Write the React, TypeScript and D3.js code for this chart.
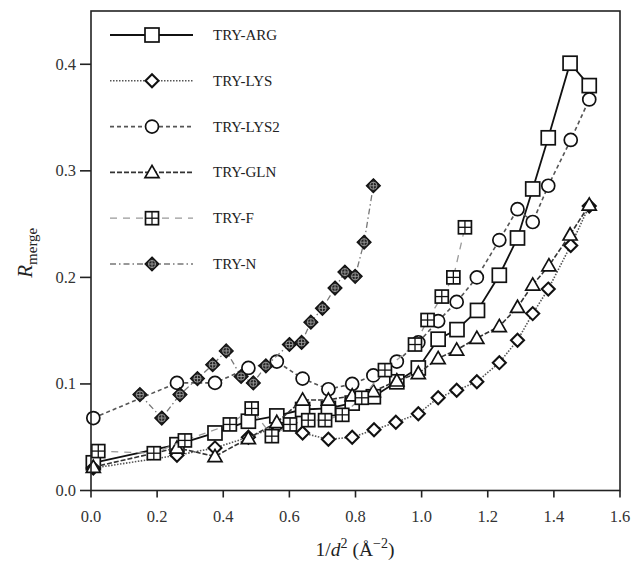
import React from "react";
import * as d3 from "d3";

type P = [number, number];

const argData: P[] = [[0.007,0.026],[0.26,0.043],[0.375,0.054],[0.476,0.065],[0.562,0.070],[0.64,0.076],[0.718,0.077],[0.79,0.082],[0.854,0.088],[0.925,0.102],[0.99,0.115],[1.05,0.142],[1.107,0.151],[1.169,0.169],[1.235,0.202],[1.29,0.237],[1.336,0.283],[1.383,0.331],[1.449,0.401],[1.507,0.380]];
const lysData: P[] = [[0.007,0.021],[0.26,0.033],[0.375,0.040],[0.476,0.050],[0.562,0.060],[0.64,0.054],[0.718,0.048],[0.79,0.050],[0.856,0.057],[0.922,0.064],[0.99,0.072],[1.05,0.087],[1.106,0.094],[1.167,0.102],[1.235,0.120],[1.29,0.141],[1.336,0.166],[1.383,0.189],[1.451,0.230],[1.507,0.267]];
const lys2Data: P[] = [[0.007,0.068],[0.26,0.101],[0.375,0.101],[0.476,0.115],[0.562,0.121],[0.64,0.105],[0.718,0.095],[0.79,0.100],[0.854,0.108],[0.925,0.121],[0.99,0.139],[1.05,0.159],[1.106,0.177],[1.167,0.200],[1.235,0.235],[1.29,0.264],[1.336,0.252],[1.383,0.286],[1.451,0.329],[1.507,0.367]];
const glnData: P[] = [[0.007,0.022],[0.26,0.040],[0.375,0.032],[0.476,0.049],[0.562,0.064],[0.64,0.085],[0.718,0.085],[0.79,0.089],[0.854,0.093],[0.925,0.103],[0.99,0.110],[1.05,0.124],[1.106,0.132],[1.167,0.143],[1.235,0.154],[1.29,0.172],[1.336,0.193],[1.385,0.211],[1.449,0.240],[1.507,0.268]];
const fData: P[] = [[0.022,0.037],[0.19,0.035],[0.284,0.047],[0.42,0.062],[0.486,0.077],[0.547,0.051],[0.602,0.062],[0.657,0.066],[0.708,0.066],[0.76,0.071],[0.819,0.087],[0.889,0.113],[0.98,0.137],[1.018,0.160],[1.061,0.182],[1.096,0.200],[1.131,0.247]];
const nData: P[] = [[0.148,0.090],[0.214,0.068],[0.269,0.090],[0.322,0.105],[0.368,0.118],[0.409,0.131],[0.454,0.107],[0.491,0.101],[0.529,0.117],[0.6,0.137],[0.637,0.139],[0.665,0.158],[0.7,0.171],[0.738,0.190],[0.768,0.205],[0.799,0.201],[0.826,0.233],[0.854,0.286]];

const seriesNames = ["TRY-ARG", "TRY-LYS", "TRY-LYS2", "TRY-GLN", "TRY-F", "TRY-N"];
const seriesData = [argData, lysData, lys2Data, glnData, fData, nData];
const markerKinds = ["square", "diamond", "circle", "triangle", "crosssquare", "ndiamond"];
const lineStyles = [
  { stroke: "#111", dash: "", width: 1.8 },
  { stroke: "#555", dash: "1.5,1.5", width: 1.6 },
  { stroke: "#555", dash: "4,3", width: 1.6 },
  { stroke: "#333", dash: "5,2", width: 1.6 },
  { stroke: "#999", dash: "7,6", width: 1.3 },
  { stroke: "#777", dash: "6,3,1.5,3", width: 1.3 },
];

const xTicks = [0, 0.2, 0.4, 0.6, 0.8, 1.0, 1.2, 1.4, 1.6];
const yTicks = [0, 0.1, 0.2, 0.3, 0.4];

const W = 634, H = 564;
const left = 91, right = 620, top = 11, bottom = 490.5;

function Marker({ kind, x, y }: { kind: string; x: number; y: number }) {
  const sw = 1.7;
  if (kind === "square") {
    const s = 7;
    return <rect x={x - s} y={y - s} width={2 * s} height={2 * s} fill="white" stroke="#111" strokeWidth={sw} />;
  }
  if (kind === "diamond") {
    const s = 6.5;
    return <path d={`M${x},${y - s}L${x + s},${y}L${x},${y + s}L${x - s},${y}Z`} fill="white" stroke="#111" strokeWidth={2.1} />;
  }
  if (kind === "circle") {
    return <circle cx={x} cy={y} r={6.5} fill="white" stroke="#111" strokeWidth={sw} />;
  }
  if (kind === "triangle") {
    const s = 7;
    return <path d={`M${x},${y - s}L${x + s},${y + s * 0.75}L${x - s},${y + s * 0.75}Z`} fill="white" stroke="#111" strokeWidth={sw} />;
  }
  if (kind === "crosssquare") {
    const s = 6.5;
    return (
      <g>
        <rect x={x - s} y={y - s} width={2 * s} height={2 * s} fill="white" stroke="#111" strokeWidth={sw} />
        <line x1={x} y1={y - s} x2={x} y2={y + s} stroke="#111" strokeWidth={1.3} />
        <line x1={x - s} y1={y} x2={x + s} y2={y} stroke="#111" strokeWidth={1.3} />
      </g>
    );
  }
  const s = 7;
  return (
    <g>
      <path d={`M${x},${y - s}L${x + s},${y}L${x},${y + s}L${x - s},${y}Z`} fill="#222" stroke="#111" strokeWidth={1.2} />
      <circle cx={x} cy={y} r={3.6} fill="none" stroke="#aaa" strokeWidth={0.8} />
      <line x1={x} y1={y - 3.6} x2={x} y2={y + 3.6} stroke="#aaa" strokeWidth={0.8} />
      <line x1={x - 3.6} y1={y} x2={x + 3.6} y2={y} stroke="#aaa" strokeWidth={0.8} />
    </g>
  );
}

export default function App() {
  const x = d3.scaleLinear().domain([0, 1.6]).range([left, right]);
  const y = d3.scaleLinear().domain([0, 0.45]).range([bottom, top]);
  const line = d3.line<P>().x((d) => x(d[0])).y((d) => y(d[1]));
  const font = "'Liberation Serif', 'DejaVu Serif', serif";

  const legendY0 = 35, legendDy = 45.8;

  return (
    <svg width={W} height={H} style={{ position: "absolute", left: 0, top: 0 }} fontFamily={font}>
      <rect x={0} y={0} width={W} height={H} fill="white" />
      {seriesData.map((data, i) => (
        <g key={seriesNames[i]}>
          <path d={line(data) || ""} fill="none" stroke={lineStyles[i].stroke} strokeWidth={lineStyles[i].width} strokeDasharray={lineStyles[i].dash} />
          {data.map((d, j) => (
            <Marker key={j} kind={markerKinds[i]} x={x(d[0])} y={y(d[1])} />
          ))}
        </g>
      ))}
      {seriesNames.map((name, i) => {
        const ly = legendY0 + i * legendDy;
        return (
          <g key={name}>
            <line x1={110} x2={193} y1={ly} y2={ly} stroke={lineStyles[i].stroke} strokeWidth={lineStyles[i].width} strokeDasharray={lineStyles[i].dash} />
            <Marker kind={markerKinds[i]} x={152} y={ly} />
            <text x={213} y={ly + 5} fontSize={15} fill="#222">{name}</text>
          </g>
        );
      })}
      <rect x={left} y={top} width={right - left} height={bottom - top} fill="none" stroke="#222" strokeWidth={1.6} />
      {xTicks.map((t) => (
        <g key={"x" + t}>
          <line x1={x(t)} x2={x(t)} y1={bottom} y2={bottom + 7} stroke="#222" strokeWidth={1.6} />
          <text x={x(t)} y={bottom + 31} fontSize={16.5} textAnchor="middle" fill="#333">{t.toFixed(1)}</text>
        </g>
      ))}
      {yTicks.map((t) => (
        <g key={"y" + t}>
          <line x1={left - 11} x2={left} y1={y(t)} y2={y(t)} stroke="#222" strokeWidth={1.6} />
          <text x={left - 15} y={y(t) + 5.5} fontSize={16.5} textAnchor="end" fill="#333">{t.toFixed(1)}</text>
        </g>
      ))}
      <text x={355} y={556} fontSize={19.5} textAnchor="middle" fill="#222">
        1/<tspan fontStyle="italic">d</tspan><tspan dy={-8} fontSize={14}>2</tspan><tspan dy={8}> (Å</tspan><tspan dy={-8} fontSize={14}>−2</tspan><tspan dy={8}>)</tspan>
      </text>
      <text transform={`translate(32,${(top + bottom) / 2 + 2}) rotate(-90)`} fontSize={21} textAnchor="middle" fill="#222">
        <tspan fontStyle="italic">R</tspan><tspan dy={5} fontSize={15}>merge</tspan>
      </text>
    </svg>
  );
}
